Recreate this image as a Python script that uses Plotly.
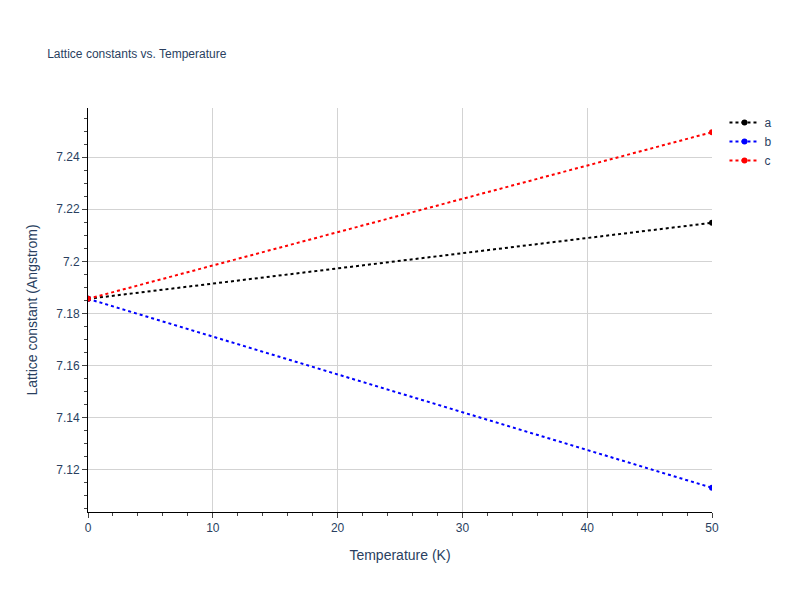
import plotly.graph_objects as go

temps = [0, 50]
a_vals = [7.1856, 7.2148]
b_vals = [7.1856, 7.1130]
c_vals = [7.1856, 7.2496]

fig = go.Figure()
for name, vals, col in [("a", a_vals, "black"), ("b", b_vals, "blue"), ("c", c_vals, "red")]:
    fig.add_trace(go.Scatter(x=temps, y=vals, name=name, mode="lines+markers",
                             line=dict(color=col, dash="dot"), marker=dict(color=col, size=6)))

axis = dict(showline=True, linecolor="black", ticks="outside", gridcolor="lightgray",
            minor=dict(ticks="outside", showgrid=False))
fig.update_layout(
    template="plotly_white",
    font=dict(family="Arial"),
    title=dict(text="Lattice constants vs. Temperature", font=dict(size=12)),
    xaxis=dict(title="Temperature (K)", range=[0, 50], **axis),
    yaxis=dict(title="Lattice constant (Angstrom)", range=[7.1037, 7.2589], **axis),
)
fig.write_html("out.html")
